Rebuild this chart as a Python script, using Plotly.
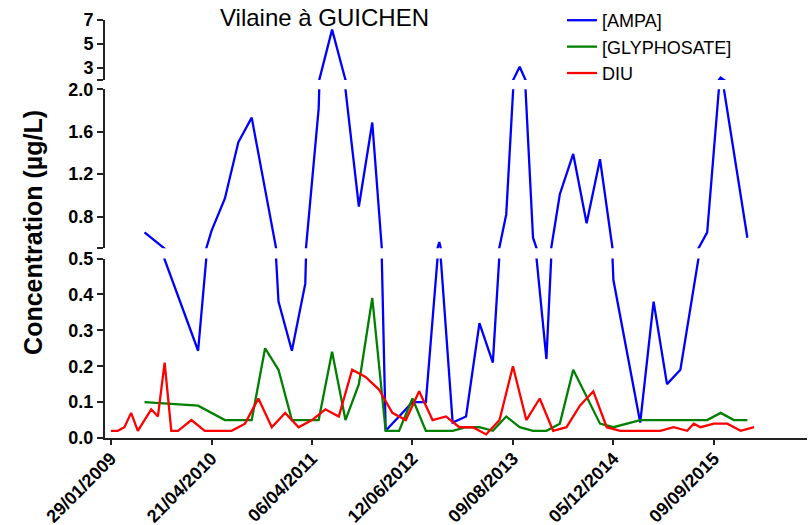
import plotly.graph_objects as go

# ---------------- data (x = sample row number, y = concentration µg/L) ----------------
tick_rows = [0, 15, 30, 45, 60, 75, 90]
tick_labels = ["29/01/2009", "21/04/2010", "06/04/2011", "12/06/2012",
               "09/08/2013", "05/12/2014", "09/09/2015"]

ampa_x = [5, 13, 15, 17, 19, 21, 23, 25, 27, 29, 31, 33, 35, 37, 39, 41, 45, 47, 49,
          51, 53, 55, 57, 59, 61, 63, 65, 67, 69, 71, 73, 75, 79, 81, 83, 85, 89, 91, 95]
ampa_y = [0.65, 0.243, 0.665, 0.97, 1.50, 1.733, 1.056, 0.38, 0.243, 0.43, 1.82, 6.2, 2.0,
          0.894, 1.687, 0.02, 0.10, 0.10, 0.56, 0.043, 0.06, 0.32, 0.21, 0.82, 3.1, 0.6,
          0.22, 1.01, 1.39, 0.737, 1.34, 0.44, 0.043, 0.38, 0.15, 0.19, 0.65, 2.2, 0.60]

gly_x = [5, 13, 17, 21, 23, 25, 27, 31, 33, 35, 37, 39, 41, 43, 45, 47, 51, 53, 55, 57,
         59, 61, 63, 65, 67, 69, 73, 75, 79, 89, 91, 93, 95]
gly_y = [0.10, 0.09, 0.05, 0.05, 0.25, 0.19, 0.05, 0.05, 0.24, 0.05, 0.15, 0.39, 0.02,
         0.02, 0.11, 0.02, 0.02, 0.03, 0.03, 0.02, 0.06, 0.03, 0.02, 0.02, 0.04, 0.19,
         0.04, 0.03, 0.05, 0.05, 0.07, 0.05, 0.05]

diu_x = [0, 1, 2, 3, 4, 6, 7, 8, 9, 10, 12, 14, 18, 20, 22, 24, 26, 28, 30, 32, 34, 36,
         38, 40, 42, 44, 46, 48, 50, 52, 54, 56, 58, 60, 62, 64, 66, 68, 70, 72, 74, 76,
         82, 84, 86, 87, 88, 90, 92, 94, 96]
diu_y = [0.02, 0.02, 0.03, 0.07, 0.02, 0.08, 0.06, 0.21, 0.02, 0.02, 0.05, 0.02, 0.02,
         0.04, 0.11, 0.03, 0.07, 0.03, 0.05, 0.08, 0.06, 0.19, 0.17, 0.135, 0.07, 0.05,
         0.13, 0.05, 0.06, 0.03, 0.03, 0.01, 0.05, 0.20, 0.05, 0.11, 0.02, 0.03, 0.09,
         0.13, 0.03, 0.02, 0.02, 0.03, 0.02, 0.04, 0.03, 0.04, 0.04, 0.02, 0.03]

# broken y axis segments
seg_bottom = [0, 0.5]
seg_middle = [0.5, 2.0]
seg_top = [2.0, 7.0]
ticks_bottom = [0.0, 0.1, 0.2, 0.3, 0.4, 0.5]
ticks_middle = [0.5, 0.8, 1.2, 1.6, 2.0]
ticks_top = [2, 3, 5, 7]

# ---------------- figure ----------------
FONT = "Liberation Sans, Arial, Helvetica, sans-serif"
BLUE, GREEN, RED = "#0000FF", "#008000", "#FF0000"
LW = 2.3
AX = "#222222"

fig = go.Figure()
for yax, show in (("y", True), ("y2", False), ("y3", False)):
    fig.add_trace(go.Scatter(x=ampa_x, y=ampa_y, mode="lines", name="[AMPA]",
                             line=dict(color=BLUE, width=LW), yaxis=yax,
                             showlegend=show, legendgroup="a", hoverinfo="skip"))
fig.add_trace(go.Scatter(x=gly_x, y=gly_y, mode="lines", name="[GLYPHOSATE]",
                         line=dict(color=GREEN, width=LW), legendgroup="g"))
fig.add_trace(go.Scatter(x=diu_x, y=diu_y, mode="lines", name="DIU",
                         line=dict(color=RED, width=LW), legendgroup="d"))

tickfont = dict(family=FONT, size=18, color="black", weight="bold")
common_y = dict(showgrid=False, zeroline=False, showline=True, linecolor=AX, linewidth=2,
                ticks="outside", ticklen=6, tickwidth=2, tickcolor=AX,
                tickfont=tickfont, anchor="x", fixedrange=True, automargin=False)


def lab(v, fmt):
    return fmt.format(v)


fig.update_layout(
    width=810, height=525,
    margin=dict(l=105, r=3, t=20, b=87, autoexpand=False),
    paper_bgcolor="white", plot_bgcolor="white",
    font=dict(family=FONT, color="black"),
    title=dict(text="Vilaine à GUICHEN", x=0.3127, xref="paper", xanchor="center",
               y=0.967, yref="container", yanchor="middle",
               font=dict(family=FONT, size=24, color="black")),
    xaxis=dict(range=[-0.9, 103.9], showgrid=False, zeroline=False, showline=True,
               linecolor=AX, linewidth=2, ticks="outside", ticklen=5, tickwidth=2,
               tickcolor=AX, tickvals=tick_rows, ticktext=tick_labels, tickangle=-45,
               ticklabelstandoff=-4,
               tickfont=dict(family=FONT, size=18, color="black", weight="bold"),
               anchor="y", automargin=False, fixedrange=True),
    yaxis=dict(domain=[0, 0.4294], range=seg_bottom, tickvals=ticks_bottom,
               ticktext=[lab(v, "{:.1f}") for v in ticks_bottom], **common_y),
    yaxis2=dict(domain=[0.4538, 0.8342], range=seg_middle, tickvals=ticks_middle,
                ticktext=[""] + [lab(v, "{:.1f}") for v in ticks_middle[1:]], **common_y),
    yaxis3=dict(domain=[0.8565, 1.0], range=seg_top, tickvals=ticks_top,
                ticktext=[""] + [lab(v, "{:d}") for v in ticks_top[1:]], **common_y),
    legend=dict(x=0.651, xanchor="left", y=1.043, yanchor="top",
                bgcolor="rgba(0,0,0,0)", traceorder="grouped", tracegroupgap=0,
                font=dict(family=FONT, size=18, color="black")),
    annotations=[dict(text="Concentration (µg/L)", textangle=-90, xref="paper",
                      yref="paper", x=-0.1026, y=0.493, showarrow=False,
                      xanchor="center", yanchor="middle",
                      font=dict(family=FONT, size=25, color="black", weight="bold"))],
)

fig.write_html("out.html", config={"displayModeBar": False, "staticPlot": True},
               post_script="document.body.style.margin='0';document.body.style.overflow='hidden';")
